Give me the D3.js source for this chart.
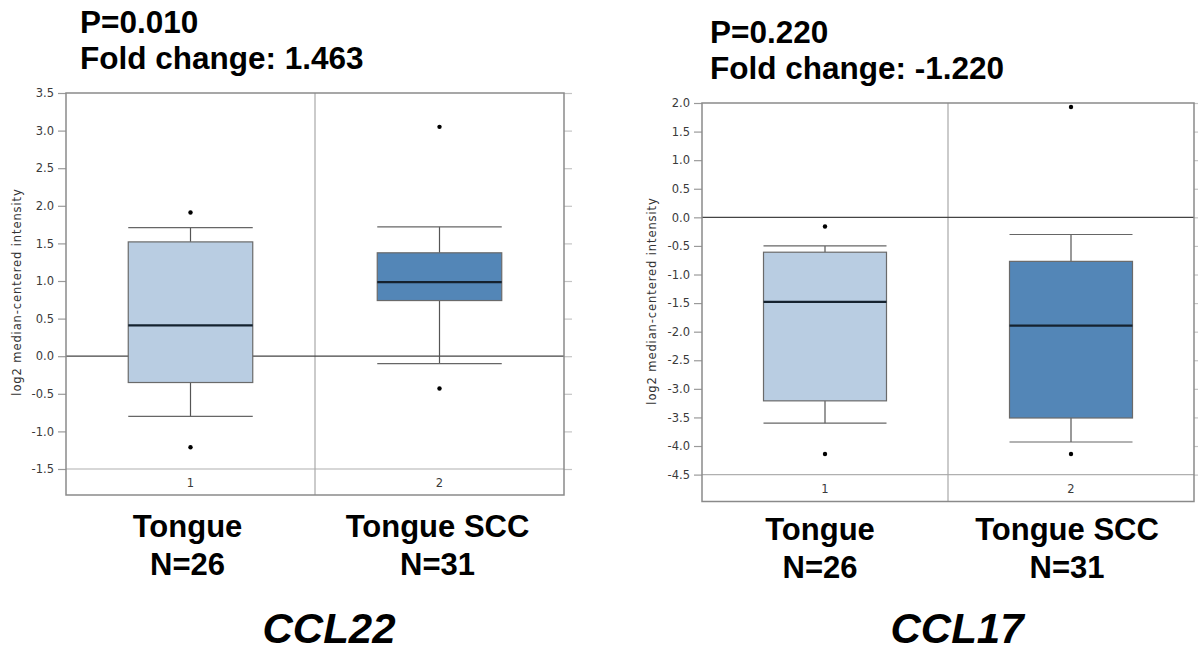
<!DOCTYPE html>
<html>
<head>
<meta charset="utf-8">
<script src="https://cdn.jsdelivr.net/npm/d3@7"></script>
<style>
  html, body { margin: 0; padding: 0; background: #fff; }
  svg { display: block; }
  .ann { font-family: "Liberation Sans", Arial, sans-serif; font-weight: bold; fill: #000; }
  .tick text { font-family: "DejaVu Sans", "Open Sans", sans-serif; }
</style>
</head>
<body>
<svg id="chart" width="1198" height="653"></svg>
<script>
// ---------- data ----------
const categories = ["1", "2"];
const groupNames = ["Tongue", "Tongue SCC"];
const groupCounts = ["N=26", "N=31"];
const genes = ["CCL22", "CCL17"];
const pValues = ["P=0.010", "P=0.220"];
const foldChanges = ["Fold change: 1.463", "Fold change: -1.220"];
const yLabel = "log2 median-centered intensity";

// box stats: [lower whisker, Q1, median, Q3, upper whisker]
const ccl22Box = [[-0.80, -0.35, 0.41, 1.52, 1.71], [-0.10, 0.74, 0.985, 1.375, 1.72]];
const ccl22Outliers = [[1.91, -1.21], [3.05, -0.43]];
const ccl22Ticks = [-1.5, -1.0, -0.5, 0.0, 0.5, 1.0, 1.5, 2.0, 2.5, 3.0, 3.5];

const ccl17Box = [[-3.60, -3.21, -1.48, -0.61, -0.50], [-3.93, -3.51, -1.895, -0.77, -0.30]];
const ccl17Outliers = [[-0.16, -4.14], [1.93, -4.14]];
const ccl17Ticks = [-4.5, -4.0, -3.5, -3.0, -2.5, -2.0, -1.5, -1.0, -0.5, 0.0, 0.5, 1.0, 1.5, 2.0];

const boxColors = ["#b9cde2", "#5386b7"];

// ---------- drawing ----------
const svg = d3.select("#chart");

function drawPanel(opt) {
  const g = svg.append("g");
  const ticks = opt.ticks;
  const y = d3.scaleLinear().domain([d3.min(ticks), d3.max(ticks)]).range([opt.yBottom, opt.yTop]);
  const x = d3.scaleBand().domain(categories).range([opt.x0, opt.x1]).padding(0);
  const bottom = opt.frameBottom;

  // right side ticks
  const rightAxis = d3.axisRight(y).tickValues(ticks).tickSize(8).tickFormat("");
  g.append("g").attr("transform", `translate(${opt.x1},0)`).call(rightAxis)
    .call(s => s.select(".domain").remove())
    .call(s => s.selectAll(".tick line").attr("stroke", "#c4c4c4").attr("stroke-width", 1.2));

  // left axis
  const leftAxis = d3.axisLeft(y).tickValues(ticks).tickSize(8).tickPadding(4).tickFormat(d3.format(".1f"));
  g.append("g").attr("transform", `translate(${opt.x0},0)`).call(leftAxis)
    .call(s => s.select(".domain").remove())
    .call(s => s.selectAll(".tick line").attr("stroke", "#9a9a9a").attr("stroke-width", 1.2))
    .call(s => s.selectAll(".tick text").attr("fill", "#3a3a3a").style("font-size", "11.5px")
      .text(d => d3.format(".1f")(d).replace("\u2212", "-")));

  // bottom separator line (lowest tick) across plot
  g.append("line").attr("x1", opt.x0).attr("x2", opt.x1)
    .attr("y1", y(d3.min(ticks))).attr("y2", y(d3.min(ticks)))
    .attr("stroke", "#b0b0b0").attr("stroke-width", 1.2);

  // category separator
  const sepX = x(categories[1]);
  g.append("line").attr("x1", sepX).attr("x2", sepX)
    .attr("y1", y(d3.max(ticks))).attr("y2", bottom)
    .attr("stroke", "#a8a8a8").attr("stroke-width", 1.2);

  // zero line
  g.append("line").attr("x1", opt.x0).attr("x2", opt.x1)
    .attr("y1", y(0)).attr("y2", y(0))
    .attr("stroke", "#444").attr("stroke-width", 1.3);

  // boxes
  const bw = x.bandwidth() * 0.5;
  opt.box.forEach((b, i) => {
    const cx = x(categories[i]) + x.bandwidth() / 2;
    const [lw, q1, med, q3, uw] = b;
    const wcol = "#555";
    g.append("line").attr("x1", cx).attr("x2", cx).attr("y1", y(q3)).attr("y2", y(uw)).attr("stroke", wcol).attr("stroke-width", 1.2);
    g.append("line").attr("x1", cx).attr("x2", cx).attr("y1", y(q1)).attr("y2", y(lw)).attr("stroke", wcol).attr("stroke-width", 1.2);
    g.append("line").attr("x1", cx - bw / 2).attr("x2", cx + bw / 2).attr("y1", y(uw)).attr("y2", y(uw)).attr("stroke", "#666").attr("stroke-width", 1.2);
    g.append("line").attr("x1", cx - bw / 2).attr("x2", cx + bw / 2).attr("y1", y(lw)).attr("y2", y(lw)).attr("stroke", "#666").attr("stroke-width", 1.2);
    g.append("rect").attr("x", cx - bw / 2).attr("width", bw)
      .attr("y", y(q3)).attr("height", y(q1) - y(q3))
      .attr("fill", boxColors[i]).attr("stroke", "#6a6a6a").attr("stroke-width", 1.2);
    g.append("line").attr("x1", cx - bw / 2).attr("x2", cx + bw / 2).attr("y1", y(med)).attr("y2", y(med))
      .attr("stroke", "#15222f").attr("stroke-width", 2.2);
    opt.outliers[i].forEach(v => {
      g.append("circle").attr("cx", cx).attr("cy", y(v)).attr("r", 2.2).attr("fill", "#000");
    });
    // category label
    g.append("text").attr("x", cx).attr("y", (y(d3.min(ticks)) + bottom) / 2 + 4.5)
      .attr("text-anchor", "middle").style("font-family", "'DejaVu Sans', 'Open Sans', sans-serif")
      .style("font-size", "11.5px").attr("fill", "#3a3a3a").text(categories[i]);
    // group labels
    g.append("text").attr("class", "ann").attr("x", cx + opt.lblDx[i]).attr("y", opt.nameY)
      .attr("text-anchor", "middle").style("font-size", "31px").text(groupNames[i]);
    g.append("text").attr("class", "ann").attr("x", cx + opt.lblDx[i]).attr("y", opt.nameY + 38)
      .attr("text-anchor", "middle").style("font-size", "31px").text(groupCounts[i]);
  });

  // frame
  g.append("rect").attr("x", opt.x0).attr("y", y(d3.max(ticks)))
    .attr("width", opt.x1 - opt.x0).attr("height", bottom - y(d3.max(ticks)))
    .attr("fill", "none").attr("stroke", "#8a8a8a").attr("stroke-width", 1.5);

  // y label
  g.append("text")
    .attr("transform", `translate(${opt.yLabelX},${opt.yLabelY}) rotate(-90)`)
    .attr("text-anchor", "middle")
    .style("font-family", "'DejaVu Sans', 'Open Sans', sans-serif").style("font-size", "11.5px")
    .style("letter-spacing", "0.9px")
    .attr("fill", "#333").text(yLabel);

  // annotations
  g.append("text").attr("class", "ann").attr("x", opt.annX).attr("y", opt.annY)
    .style("font-size", "31.5px").text(opt.p);
  g.append("text").attr("class", "ann").attr("x", opt.annX).attr("y", opt.annY + 35.5)
    .style("font-size", "31.5px").text(opt.fc);

  // gene name
  g.append("text").attr("class", "ann").attr("x", opt.geneX).attr("y", 643)
    .attr("text-anchor", "middle").style("font-size", "42px").style("font-style", "italic")
    .text(opt.gene);
}

drawPanel({
  ticks: ccl22Ticks, box: ccl22Box, outliers: ccl22Outliers,
  x0: 66, x1: 564, yTop: 93, yBottom: 469, frameBottom: 495,
  yLabelX: 21, yLabelY: 292,
  annX: 80, annY: 33, p: pValues[0], fc: foldChanges[0],
  nameY: 537, lblDx: [-3, -2],
  gene: genes[0], geneX: 329
});

drawPanel({
  ticks: ccl17Ticks, box: ccl17Box, outliers: ccl17Outliers,
  x0: 702, x1: 1194, yTop: 103, yBottom: 474.6, frameBottom: 501.5,
  yLabelX: 656, yLabelY: 301,
  annX: 710, annY: 43, p: pValues[1], fc: foldChanges[1],
  nameY: 540, lblDx: [-5, -4],
  gene: genes[1], geneX: 957
});
</script>
</body>
</html>
